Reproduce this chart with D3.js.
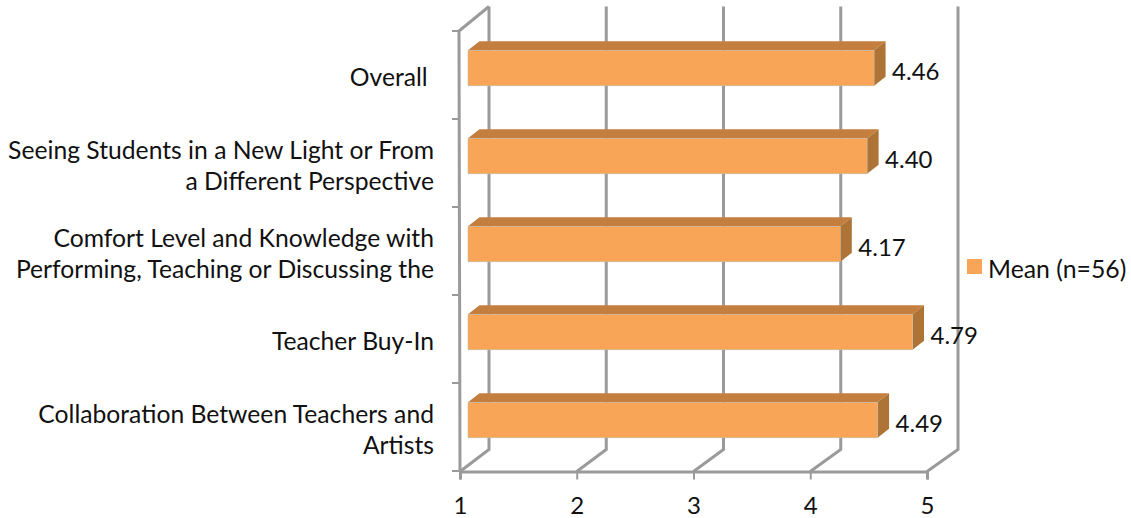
<!DOCTYPE html>
<html>
<head>
<meta charset="utf-8">
<script src="https://cdn.jsdelivr.net/npm/d3@7/dist/d3.min.js"></script>
<style>
  html, body { margin: 0; padding: 0; background: #fff; }
  text { font-family: Lato, "Open Sans", sans-serif; font-size: 24px; fill: #111; }
</style>
</head>
<body>
<svg id="chart" width="1131" height="518"></svg>
<script>
var categories = [
  ["Overall "],
  ["Seeing Students in a New Light or From", "a Different Perspective"],
  ["Comfort Level and Knowledge with", "Performing, Teaching or Discussing the"],
  ["Teacher Buy-In"],
  ["Collaboration Between Teachers and", "Artists"]
];
var means = [4.46, 4.40, 4.17, 4.79, 4.49];
var valueTicks = [1, 2, 3, 4, 5];
var seriesName = "Mean (n=56)";

var svg = d3.select("#chart");
var gridColor = "#9a9a9a";

// front edge of the floor, back wall, and the bars sit slightly inside
var xFront = d3.scaleLinear().domain([1, 5]).range([460, 927]);
var xBack = d3.scaleLinear().domain([1, 5]).range([489, 958]);
var xBar = d3.scaleLinear().domain([1, 5]).range([471, 937]);
var y = d3.scaleBand().domain(d3.range(categories.length)).range([31, 471]);

var barLeft = 468, barInset = 19.3, barHeight = 35.5;
var depthX = 11.5, depthY = 9;

// back wall grid lines and the slanted floor lines
var grid = svg.append("g")
    .attr("fill", "none")
    .attr("stroke", gridColor)
    .attr("stroke-width", 3);

grid.selectAll("path.wall")
    .data(valueTicks)
    .enter().append("path")
    .attr("class", "wall")
    .attr("d", function(d) {
      return "M" + xFront(d) + " 471.5 L" + xBack(d) + " 449.5 L" + xBack(d) + " 6.5";
    });

grid.append("path")
    .attr("d", "M460 471.5 L459 31 L" + xBack(1) + " 6.5");

// left ticks, one per band edge
grid.selectAll("line.cat")
    .data(d3.range(categories.length + 1))
    .enter().append("line")
    .attr("class", "cat")
    .attr("x1", 452)
    .attr("x2", 460)
    .attr("stroke-width", 2)
    .attr("y1", function(i) { return 31 + i * y.step(); })
    .attr("y2", function(i) { return 31 + i * y.step(); });

// bottom axis
var axis = svg.append("g")
    .attr("transform", "translate(0,471.5)")
    .call(d3.axisBottom(xFront).tickValues(valueTicks).tickSize(8).tickPadding(17).tickFormat(d3.format("d")));
axis.selectAll("path.domain").attr("stroke", gridColor).attr("stroke-width", 3);
axis.selectAll(".tick line").attr("stroke", gridColor).attr("stroke-width", 2);
axis.selectAll("text").style("font-family", "Lato").style("font-size", "24px").attr("fill", "#111");

// bars: top face, side face, front face
var bar = svg.selectAll("g.bar")
    .data(means)
    .enter().append("g")
    .attr("class", "bar")
    .attr("transform", function(d, i) { return "translate(0," + (y(i) + barInset) + ")"; });

bar.append("path")
    .attr("fill", "#c47f3f")
    .attr("d", function(d) {
      var e = xBar(d);
      return "M" + barLeft + " 0 L" + (barLeft + depthX) + " " + (-depthY) +
             " L" + (e + depthX) + " " + (-depthY) + " L" + e + " 0 Z";
    });

bar.append("path")
    .attr("fill", "#ad7435")
    .attr("d", function(d) {
      var e = xBar(d);
      return "M" + e + " 0 L" + (e + depthX) + " " + (-depthY) +
             " L" + (e + depthX) + " " + (barHeight - depthY) + " L" + e + " " + barHeight + " Z";
    });

bar.append("rect")
    .attr("x", barLeft)
    .attr("y", 0)
    .attr("width", function(d) { return xBar(d) - barLeft; })
    .attr("height", barHeight)
    .attr("fill", "#f9a557")
    .attr("stroke", "#c9b9a6")
    .attr("stroke-width", 0.6);

// value labels
bar.append("text")
    .attr("x", function(d) { return xBar(d) + 18; })
    .attr("y", 30)
    .text(function(d) { return d.toFixed(2); });

// category labels, one or two lines
var label = svg.selectAll("text.cat")
    .data(categories)
    .enter().append("text")
    .attr("class", "cat")
    .attr("text-anchor", "end")
    .style("white-space", "pre")
    .style("font-size", "24.7px")
    .attr("y", function(d, i) {
      return y(i) + y.step() / 2 + (d.length == 1 ? 11 : -4);
    });

label.selectAll("tspan")
    .data(function(d) { return d; })
    .enter().append("tspan")
    .attr("x", 434)
    .attr("dy", function(d, i) { return i ? 31 : 0; })
    .text(function(d) { return d; });

// legend
svg.append("rect")
    .attr("x", 967).attr("y", 259)
    .attr("width", 15).attr("height", 15)
    .attr("fill", "#f9a557");
svg.append("text")
    .attr("x", 988).attr("y", 278)
    .style("font-size", "24.8px")
    .text(seriesName);
</script>
</body>
</html>
